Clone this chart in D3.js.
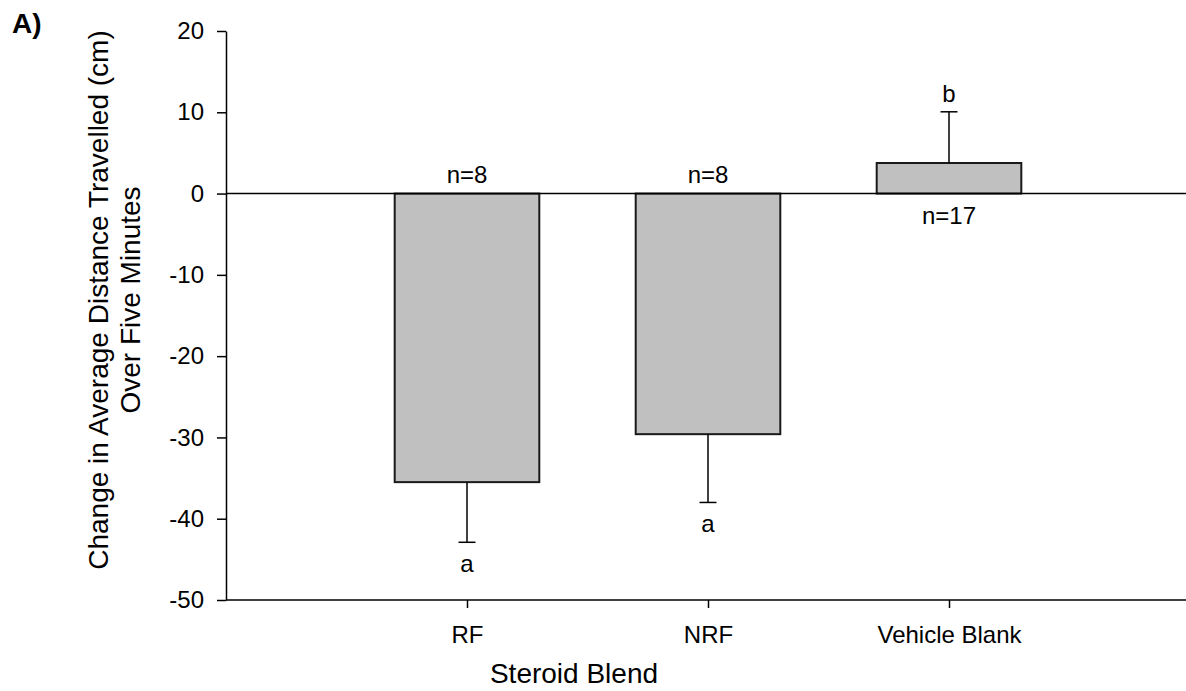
<!DOCTYPE html>
<html>
<head>
<meta charset="utf-8">
<script src="https://cdn.jsdelivr.net/npm/d3@7/dist/d3.min.js"></script>
<style>
  html, body { margin: 0; padding: 0; background: #fff; }
  svg text { font-family: Arial, "Liberation Sans", sans-serif; fill: #000; }
</style>
</head>
<body>
<svg id="chart" width="1186" height="691"></svg>
<script>
// Steroid blend groups and their mean change in distance (cm) with SE
const categories = ["RF", "NRF", "Vehicle Blank"];
const means = [-35.5, -29.6, 3.76];
const errors = [7.4, 8.4, 6.3];
const sampleSizes = ["n=8", "n=8", "n=17"];
const groupLetters = ["a", "a", "b"];
const yTicks = [20, 10, 0, -10, -20, -30, -40, -50];

const FONT = "Arial, 'Liberation Sans', sans-serif";
const svg = d3.select("#chart");

const plotLeft = 226, plotRight = 1190, plotTop = 31, plotBottom = 600;

const x = d3.scaleLinear().domain([0, 4]).range([plotLeft, plotRight]);
const y = d3.scaleLinear().domain([-50, 20]).range([plotBottom, plotTop]);
const barW = x(0.6) - x(0);

// Bars
svg.append("g").selectAll("rect")
  .data(means)
  .join("rect")
  .attr("x", (d, i) => x(i + 1) - barW / 2)
  .attr("y", d => y(Math.max(0, d)))
  .attr("width", barW)
  .attr("height", d => Math.abs(y(d) - y(0)))
  .attr("fill", "#c0c0c0")
  .attr("stroke", "#1a1a1a")
  .attr("stroke-width", 2);

// One-sided error bars pointing away from zero
const errEnd = (d, i) => d < 0 ? d - errors[i] : d + errors[i];
const eg = svg.append("g").attr("stroke", "#000").attr("stroke-width", 1.5);
eg.selectAll("line.stem")
  .data(means)
  .join("line")
  .attr("class", "stem")
  .attr("x1", (d, i) => x(i + 1)).attr("x2", (d, i) => x(i + 1))
  .attr("y1", d => y(d))
  .attr("y2", (d, i) => y(errEnd(d, i)));
eg.selectAll("line.cap")
  .data(means)
  .join("line")
  .attr("class", "cap")
  .attr("x1", (d, i) => x(i + 1) - 8.5).attr("x2", (d, i) => x(i + 1) + 8.5)
  .attr("y1", (d, i) => y(errEnd(d, i)))
  .attr("y2", (d, i) => y(errEnd(d, i)));

// Significance letters beyond the error bars
svg.append("g").selectAll("text")
  .data(means)
  .join("text")
  .attr("x", (d, i) => x(i + 1))
  .attr("y", (d, i) => d < 0 ? y(errEnd(d, i)) + 30 : y(errEnd(d, i)) - 10)
  .attr("text-anchor", "middle")
  .attr("font-size", 24)
  .text((d, i) => groupLetters[i]);

// Sample sizes on the opposite side of the zero line
svg.append("g").selectAll("text")
  .data(means)
  .join("text")
  .attr("x", (d, i) => x(i + 1))
  .attr("y", d => d < 0 ? y(0) - 11 : y(0) + 30)
  .attr("text-anchor", "middle")
  .attr("font-size", 24)
  .text((d, i) => sampleSizes[i]);

// Zero reference line
svg.append("line")
  .attr("x1", plotLeft).attr("x2", 1186)
  .attr("y1", y(0)).attr("y2", y(0))
  .attr("stroke", "#000").attr("stroke-width", 1.5);

// Y axis
const yAxis = svg.append("g")
  .attr("transform", `translate(${plotLeft},0)`)
  .call(d3.axisLeft(y).tickValues(yTicks).tickSize(9).tickSizeOuter(0).tickPadding(13)
    .tickFormat(d => String(d)));
yAxis.select(".domain").attr("stroke", "#000").attr("stroke-width", 1.5);
yAxis.selectAll(".tick line").attr("stroke", "#000").attr("stroke-width", 1.5);
yAxis.selectAll(".tick text").attr("font-size", 24).attr("font-family", FONT).attr("fill", "#000");

// X axis
const xAxis = svg.append("g")
  .attr("transform", `translate(0,${plotBottom})`)
  .call(d3.axisBottom(x).tickValues([1, 2, 3]).tickSize(8).tickSizeOuter(0).tickPadding(18)
    .tickFormat(d => categories[d - 1]));
xAxis.select(".domain").attr("d", `M${plotLeft},0H1186`).attr("stroke", "#000").attr("stroke-width", 1.5);
xAxis.selectAll(".tick line").attr("stroke", "#000").attr("stroke-width", 1.5);
xAxis.selectAll(".tick text").attr("font-size", 24).attr("font-family", FONT).attr("fill", "#000");

// Axis titles
svg.append("text")
  .attr("x", 574).attr("y", 683)
  .attr("text-anchor", "middle")
  .attr("font-size", 28)
  .text("Steroid Blend");

const yTitle = svg.append("text")
  .attr("transform", "translate(0,300) rotate(-90)")
  .attr("text-anchor", "middle")
  .attr("font-size", 28);
yTitle.append("tspan").attr("x", 0).attr("y", 108).text("Change in Average Distance Travelled (cm)");
yTitle.append("tspan").attr("x", 0).attr("y", 140).text("Over Five Minutes");

// Panel label
svg.append("text")
  .attr("x", 12).attr("y", 33)
  .attr("font-size", 28)
  .attr("font-weight", "bold")
  .text("A)");
</script>
</body>
</html>
